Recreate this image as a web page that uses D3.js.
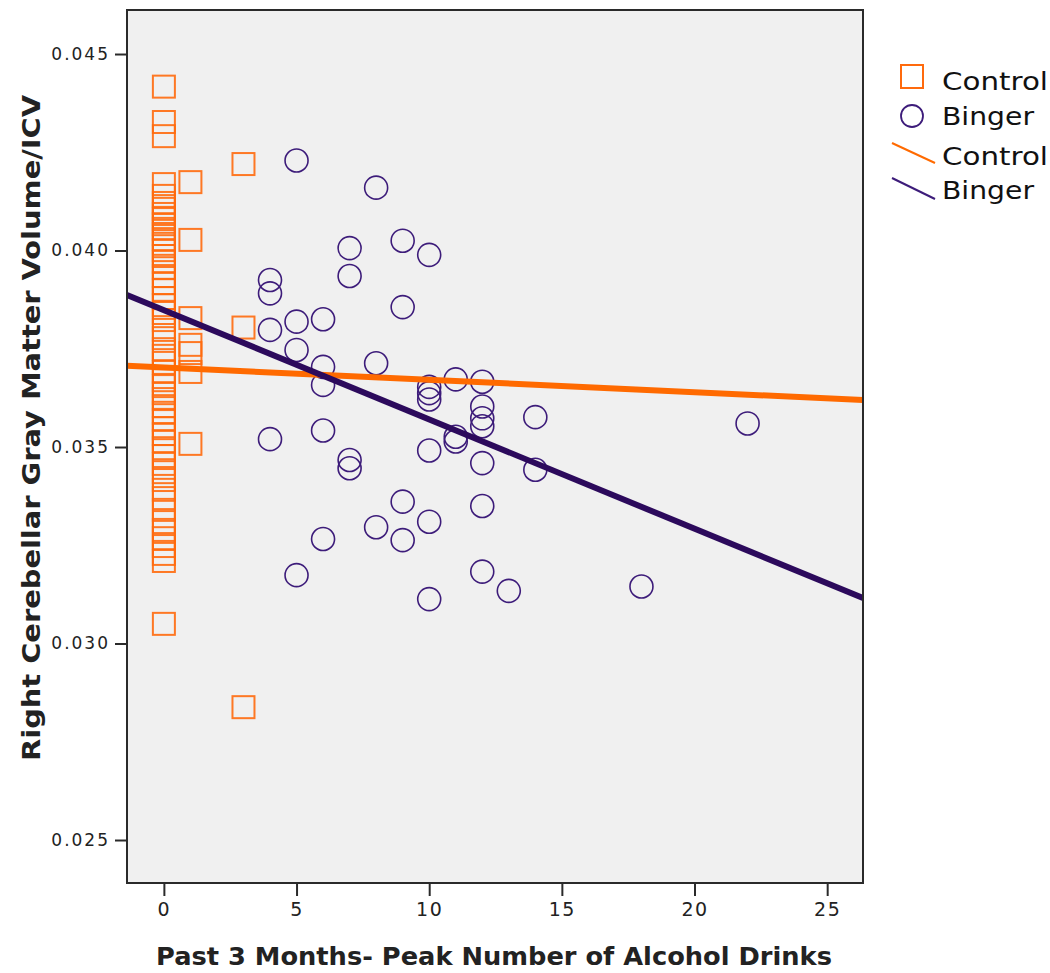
<!DOCTYPE html>
<html>
<head>
<meta charset="utf-8">
<script src="https://cdn.jsdelivr.net/npm/d3@7"></script>
<style>
  html, body { margin: 0; padding: 0; background: #ffffff; }
  svg { display: block; }
</style>
</head>
<body>
<svg id="chart" width="1050" height="973"></svg>
<script>
// ---------------- DATA ----------------
const xTicks = [0, 5, 10, 15, 20, 25];
const yTicks = [0.025, 0.030, 0.035, 0.040, 0.045];
const yTickLabels = ["0.025", "0.030", "0.035", "0.040", "0.045"];

// Control group (x = peak drinks, y = volume/ICV)
const controlX = [
  0, 0, 0,
  0, 0, 0, 0, 0, 0, 0, 0, 0,
  0, 0, 0, 0, 0, 0, 0, 0, 0,
  0, 0, 0, 0, 0, 0, 0, 0,
  0, 0, 0, 0, 0, 0, 0, 0, 0,
  0, 0, 0, 0, 0, 0, 0, 0, 0,
  0, 0, 0, 0, 0, 0, 0, 0, 0,
  1, 1, 1, 1, 1, 1, 1,
  3, 3, 3
];
const controlY = [
  0.04417, 0.04327, 0.04291,
  0.04169, 0.04139, 0.04121, 0.04106, 0.04093, 0.04080, 0.04067, 0.04055, 0.04042,
  0.04029, 0.04017, 0.04001, 0.03986, 0.03971, 0.03955, 0.03935, 0.03917, 0.03900,
  0.03879, 0.03861, 0.03841, 0.03823, 0.03798, 0.03777, 0.03749, 0.03732,
  0.03714, 0.03691, 0.03670, 0.03655, 0.03637, 0.03622, 0.03604, 0.03587, 0.03569,
  0.03548, 0.03533, 0.03515, 0.03497, 0.03477, 0.03457, 0.03436, 0.03416, 0.03391,
  0.03370, 0.03340, 0.03309, 0.03289, 0.03268, 0.03248, 0.03228, 0.03210, 0.03050,
  0.04174, 0.04027, 0.03828, 0.03760, 0.03739, 0.03691, 0.03508,
  0.04220, 0.03804, 0.02838
];

// Binger group
const bingerX = [
  5, 8, 7, 9, 10, 7, 4, 4, 9, 4,
  5, 6, 5, 6, 6, 8, 10, 10, 10, 11,
  12, 12, 12, 12, 14, 4, 6, 11, 11, 10,
  12, 14, 7, 7, 9, 12, 10, 8, 9, 6,
  5, 12, 13, 10, 22, 18
];
const bingerY = [
  0.04229, 0.04160, 0.04006, 0.04025, 0.03989, 0.03935, 0.03925, 0.03891, 0.03856, 0.03798,
  0.03819, 0.03825, 0.03747, 0.03704, 0.03658, 0.03713, 0.03653, 0.03637, 0.03621, 0.03672,
  0.03666, 0.03603, 0.03573, 0.03553, 0.03576, 0.03520, 0.03542, 0.03526, 0.03514, 0.03491,
  0.03459, 0.03442, 0.03467, 0.03446, 0.03361, 0.03350, 0.03310, 0.03296, 0.03263, 0.03266,
  0.03174, 0.03183, 0.03134, 0.03113, 0.03560, 0.03145
];

// Fit lines: [intercept, slope]
const controlFit = [0.037025, -0.0000315];
const bingerFit = [0.038482, -0.000278];

const legendLabels = ["Control", "Binger", "Control", "Binger"];

// ---------------- STYLE / LAYOUT ----------------
const ORANGE = "#ff6a0d";
const ORANGE_LINE = "#ff6a00";
const PURPLE = "#3d1c7a";
const PURPLE_LINE = "#2c0a5c";

const plot = { left: 127, top: 10, right: 863, bottom: 883 };

const svg = d3.select("#chart");

const x = d3.scaleLinear().domain([-1.39, 26.35]).range([plot.left, plot.right]);
const y = d3.scaleLinear().domain([0.023906, 0.04612]).range([plot.bottom, plot.top]);

// background
svg.append("rect")
  .attr("x", plot.left).attr("y", plot.top)
  .attr("width", plot.right - plot.left).attr("height", plot.bottom - plot.top)
  .attr("fill", "#f0f0f0");

svg.append("defs").append("clipPath").attr("id", "clip")
  .append("rect")
  .attr("x", plot.left).attr("y", plot.top)
  .attr("width", plot.right - plot.left).attr("height", plot.bottom - plot.top);

const g = svg.append("g").attr("clip-path", "url(#clip)");

// control squares
const S = 22;
g.selectAll("rect.ctrl")
  .data(controlX.map((d, i) => [d, controlY[i]]))
  .join("rect")
  .attr("class", "ctrl")
  .attr("x", d => x(d[0]) - S / 2)
  .attr("y", d => y(d[1]) - S / 2)
  .attr("width", S).attr("height", S)
  .attr("fill", "none")
  .attr("stroke", ORANGE)
  .attr("stroke-width", 2)
  .attr("stroke-opacity", 0.9);

// binger circles
g.selectAll("circle.bing")
  .data(bingerX.map((d, i) => [d, bingerY[i]]))
  .join("circle")
  .attr("class", "bing")
  .attr("cx", d => x(d[0]))
  .attr("cy", d => y(d[1]))
  .attr("r", 11.5)
  .attr("fill", "none")
  .attr("stroke", PURPLE)
  .attr("stroke-width", 1.6);

// fit lines
const xd = x.domain();
function fitLine(fit, color) {
  g.append("line")
    .attr("x1", x(xd[0])).attr("y1", y(fit[0] + fit[1] * xd[0]))
    .attr("x2", x(xd[1])).attr("y2", y(fit[0] + fit[1] * xd[1]))
    .attr("stroke", color)
    .attr("stroke-width", 6);
}
fitLine(controlFit, ORANGE_LINE);
fitLine(bingerFit, PURPLE_LINE);

// frame
svg.append("rect")
  .attr("x", plot.left).attr("y", plot.top)
  .attr("width", plot.right - plot.left).attr("height", plot.bottom - plot.top)
  .attr("fill", "none")
  .attr("stroke", "#2a2a2a")
  .attr("stroke-width", 2);

// axes
const xAxis = d3.axisBottom(x).tickValues(xTicks).tickSize(13).tickPadding(7).tickFormat(d3.format("d"));
const xg = svg.append("g").attr("transform", `translate(0,${plot.bottom})`).call(xAxis);
xg.select(".domain").remove();
xg.selectAll(".tick line").attr("stroke", "#2a2a2a").attr("stroke-width", 2);
xg.selectAll(".tick text")
  .attr("font-family", "DejaVu Sans, sans-serif")
  .attr("font-size", 19)
  .attr("letter-spacing", 1.5)
  .attr("fill", "#222");

const yAxis = d3.axisLeft(y).tickValues(yTicks).tickSize(12).tickPadding(5)
  .tickFormat((d, i) => yTickLabels[i]);
const yg = svg.append("g").attr("transform", `translate(${plot.left},0)`).call(yAxis);
yg.select(".domain").remove();
yg.selectAll(".tick line").attr("stroke", "#2a2a2a").attr("stroke-width", 2);
yg.selectAll(".tick text")
  .attr("font-family", "DejaVu Sans, sans-serif")
  .attr("font-size", 17)
  .attr("letter-spacing", 2)
  .attr("fill", "#222");

// axis titles
svg.append("text")
  .attr("x", 494).attr("y", 965)
  .attr("text-anchor", "middle")
  .attr("font-family", "DejaVu Sans, sans-serif")
  .attr("font-weight", "bold")
  .attr("font-size", 25)
  .attr("textLength", 676)
  .attr("lengthAdjust", "spacingAndGlyphs")
  .attr("fill", "#222")
  .text("Past 3 Months- Peak Number of Alcohol Drinks");

svg.append("text")
  .attr("transform", "translate(40,428) rotate(-90)")
  .attr("text-anchor", "middle")
  .attr("font-family", "DejaVu Sans, sans-serif")
  .attr("font-weight", "bold")
  .attr("font-size", 24)
  .attr("textLength", 666)
  .attr("lengthAdjust", "spacingAndGlyphs")
  .attr("fill", "#222")
  .text("Right Cerebellar Gray Matter Volume/ICV");

// legend
const lg = svg.append("g");
lg.append("rect").attr("x", 901).attr("y", 65).attr("width", 22).attr("height", 23)
  .attr("fill", "none").attr("stroke", ORANGE).attr("stroke-width", 2);
lg.append("circle").attr("cx", 912).attr("cy", 116).attr("r", 11)
  .attr("fill", "none").attr("stroke", PURPLE).attr("stroke-width", 1.8);
lg.append("line").attr("x1", 892).attr("y1", 143).attr("x2", 935).attr("y2", 163)
  .attr("stroke", ORANGE_LINE).attr("stroke-width", 2);
lg.append("line").attr("x1", 892).attr("y1", 178).attr("x2", 935).attr("y2", 199)
  .attr("stroke", PURPLE).attr("stroke-width", 2);

const legendY = [90, 125, 165, 199];
const legendW = [106, 92, 106, 92];
lg.selectAll("text.leg")
  .data(legendLabels)
  .join("text")
  .attr("class", "leg")
  .attr("x", 942)
  .attr("y", (d, i) => legendY[i])
  .attr("font-family", "DejaVu Sans, sans-serif")
  .attr("font-size", 25)
  .attr("textLength", (d, i) => legendW[i])
  .attr("lengthAdjust", "spacingAndGlyphs")
  .attr("fill", "#111")
  .text(d => d);
</script>
</body>
</html>
